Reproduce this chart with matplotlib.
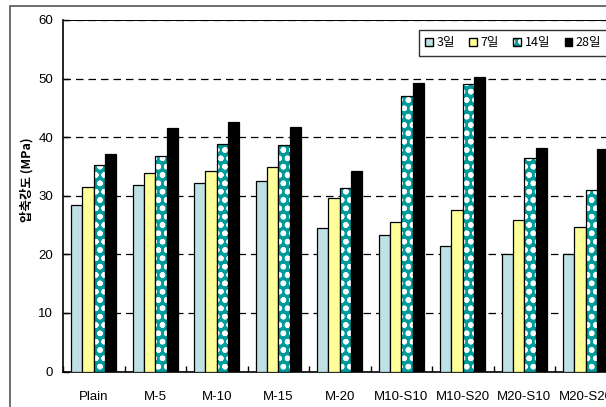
import numpy as np
import matplotlib
matplotlib.use("Agg")
import matplotlib.pyplot as plt
from matplotlib.patches import Rectangle, Patch

plt.rcParams['font.family'] = ['Liberation Sans', 'Noto Sans CJK KR', 'DejaVu Sans']
plt.rcParams['hatch.linewidth'] = 1.6

# ----------------------
# Data
# ----------------------
mixes = ["Plain", "M-5", "M-10", "M-15", "M-20", "M10-S10", "M10-S20", "M20-S10", "M20-S20"]
ages = ["3일", "7일", "14일", "28일"]

day3 = [28.5, 31.9, 32.1, 32.5, 24.5, 23.3, 21.4, 20.1, 20.0]
day7 = [31.5, 33.8, 34.2, 34.9, 29.6, 25.6, 27.5, 25.9, 24.6]
day14 = [35.2, 36.7, 38.8, 38.6, 31.4, 47.1, 49.0, 36.5, 30.9]
day28 = [37.2, 41.5, 42.6, 41.8, 34.2, 49.2, 50.3, 38.2, 38.0]

yticks = [0, 10, 20, 30, 40, 50, 60]

C3 = '#BDE1E4'
C7 = '#FFFF99'
C14 = '#009C9C'

# ----------------------
# Figure
# ----------------------
W, H = 606, 407
fig = plt.figure(figsize=(W / 100, H / 100), dpi=100)

# outer chart frame (runs off the right/bottom edge)
fig.add_artist(Rectangle((9.5 / W, -0.1), 1.2, (H - 5.5) / H + 0.1, transform=fig.transFigure,
                         fill=False, edgecolor='#555555', linewidth=1.2))

ax = fig.add_axes([63 / W, (H - 371.5) / H, 9 * 61.5 / W, 351.5 / H])

x = np.arange(len(mixes))
bw = 0.183
offsets = (np.arange(4) - 1.5) * bw

ax.bar(x + offsets[0], day3, bw, color=C3, edgecolor='black', linewidth=0.9, zorder=3)
ax.bar(x + offsets[1], day7, bw, color=C7, edgecolor='black', linewidth=0.9, zorder=3)
# 14일: teal with white dotted pattern
ax.bar(x + offsets[2], day14, bw, color=C14, edgecolor='none', linewidth=0, zorder=3)
ax.bar(x + offsets[2], day14, bw, color='none', edgecolor='white', hatch='oo', linewidth=0, zorder=3.1)
ax.bar(x + offsets[2], day14, bw, color='none', edgecolor='black', linewidth=0.9, zorder=3.2)
ax.bar(x + offsets[3], day28, bw, color='black', edgecolor='black', linewidth=0.9, zorder=3)

ax.set_xlim(-0.5, len(mixes) - 0.5)
ax.set_ylim(0, 60)
ax.set_yticks(yticks)
ax.set_xticks(x)
ax.set_xticklabels(mixes, fontsize=9.5)
ax.set_xticks(np.arange(len(mixes) + 1) - 0.5, minor=True)
ax.tick_params(axis='x', which='major', length=0, pad=14)
ax.tick_params(axis='x', which='minor', direction='in', length=4, width=1)
ax.tick_params(axis='y', direction='in', length=4, width=1, labelsize=9.5, pad=7)

ax.yaxis.grid(True, linestyle=(0, (6, 4)), color='black', linewidth=0.9, zorder=0)
ax.set_axisbelow(True)

for s in ['top', 'right']:
    ax.spines[s].set_visible(False)
for s in ['left', 'bottom']:
    ax.spines[s].set_linewidth(1.2)
# top edge line at 60
ax.axhline(60, color='black', linewidth=1.4, zorder=1)

ax.set_ylabel("압축강도 (MPa)", fontsize=9, fontweight='bold',
              family=['Noto Sans CJK KR', 'DejaVu Sans'])
ax.yaxis.set_label_coords(-0.054, 0.545)

handles = [
    Patch(facecolor=C3, edgecolor='black'),
    Patch(facecolor=C7, edgecolor='black'),
    (Patch(facecolor=C14, edgecolor='none'),
     Patch(facecolor='none', edgecolor='white', hatch='oo', linewidth=0),
     Patch(facecolor='none', edgecolor='black')),
    Patch(facecolor='black', edgecolor='black'),
]
leg = ax.legend(handles, ages, loc='upper left', bbox_to_anchor=(419 / W, 1 - 30 / H),
                bbox_transform=fig.transFigure, ncol=4, frameon=True, fancybox=False,
                prop={'family': ['Noto Sans CJK KR', 'DejaVu Sans'], 'size': 9},
                handlelength=0.6, handleheight=0.6, handletextpad=0.3, columnspacing=1.15,
                borderpad=0.5, borderaxespad=0)
leg.get_frame().set_edgecolor('black')
leg.get_frame().set_linewidth(1.0)
leg.set_zorder(5)

fig.savefig("out.png", dpi=100)
